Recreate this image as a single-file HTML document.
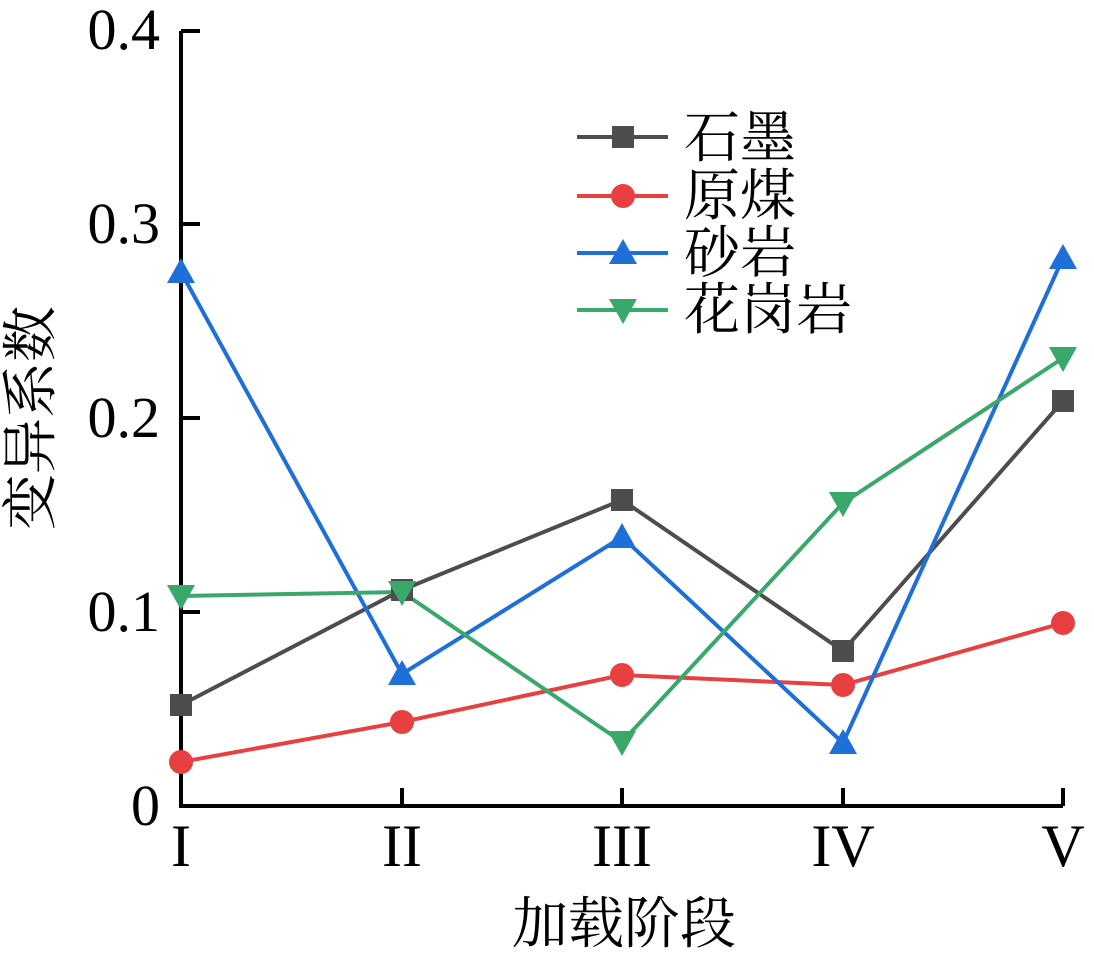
<!DOCTYPE html>
<html><head><meta charset="utf-8"><style>html,body{margin:0;padding:0;background:#fff}</style></head>
<body>
<svg width="1094" height="954" viewBox="0 0 1094 954" xmlns="http://www.w3.org/2000/svg">
<g stroke="#000" stroke-width="4" fill="none">
<polyline points="181,31 181,806 1063,806"/>
<line x1="181" y1="31" x2="200" y2="31"/><line x1="181" y1="224" x2="200" y2="224"/><line x1="181" y1="418" x2="200" y2="418"/><line x1="181" y1="612" x2="200" y2="612"/>
<line x1="402" y1="806" x2="402" y2="788"/><line x1="622" y1="806" x2="622" y2="788"/><line x1="843" y1="806" x2="843" y2="788"/><line x1="1063" y1="806" x2="1063" y2="788"/>
</g>
<g font-family="Liberation Serif, serif" font-size="58" text-anchor="end" fill="#000">
<text x="160" y="49">0.4</text><text x="160" y="243">0.3</text><text x="160" y="437">0.2</text><text x="160" y="631">0.1</text><text x="160" y="825">0</text>
</g>
<g font-family="Liberation Serif, serif" font-size="60" text-anchor="middle" fill="#000">
<text x="181" y="866">I</text><text x="402" y="866">II</text><text x="622" y="866">III</text><text x="843" y="866">IV</text><text x="1063" y="866">V</text>
</g>
<text x="624" y="943" font-family="Liberation Serif, 'Noto Serif CJK SC', serif" font-size="56" text-anchor="middle">加载阶段</text>
<text transform="translate(50,418) rotate(-90)" font-family="Liberation Serif, 'Noto Serif CJK SC', serif" font-size="56" text-anchor="middle">变异系数</text>

<g stroke-width="4" fill="none">
<polyline stroke="#4d4d4d" points="181,705 402,590 622,500 843,651 1063,401"/>
<polyline stroke="#e84040" points="181,762 402,722 622,675 843,685 1063,623"/>
<polyline stroke="#1f6fd8" points="181,272 402,674 622,537 843,743 1063,258"/>
<polyline stroke="#3aa86a" points="181,596 402,592 622,742 843,503 1063,358"/>
</g>
<g fill="#4d4d4d"><rect x="170" y="694" width="22" height="22"/><rect x="391" y="579" width="22" height="22"/><rect x="611" y="489" width="22" height="22"/><rect x="832" y="640" width="22" height="22"/><rect x="1052" y="390" width="22" height="22"/></g>
<g fill="#e84040"><circle cx="181" cy="762" r="12"/><circle cx="402" cy="722" r="12"/><circle cx="622" cy="675" r="12"/><circle cx="843" cy="685" r="12"/><circle cx="1063" cy="623" r="12"/></g>
<g fill="#1f6fd8">
<polygon points="181,258 195,283 167,283"/><polygon points="402,660 416,685 388,685"/><polygon points="622,523 636,548 608,548"/><polygon points="843,729 857,754 829,754"/><polygon points="1063,244 1077,269 1049,269"/>
</g>
<g fill="#3aa86a">
<polygon points="167,585 195,585 181,610"/><polygon points="388,581 416,581 402,606"/><polygon points="608,731 636,731 622,756"/><polygon points="829,492 857,492 843,517"/><polygon points="1049,347 1077,347 1063,372"/>
</g>

<g stroke-width="4">
<line x1="577" y1="137" x2="668" y2="137" stroke="#4d4d4d"/>
<line x1="577" y1="196" x2="668" y2="196" stroke="#e84040"/>
<line x1="577" y1="253" x2="668" y2="253" stroke="#1f6fd8"/>
<line x1="577" y1="310" x2="668" y2="310" stroke="#3aa86a"/>
</g>
<rect x="612" y="126" width="22" height="22" fill="#4d4d4d"/>
<circle cx="623" cy="196" r="12" fill="#e84040"/>
<polygon points="623,239 637,264 609,264" fill="#1f6fd8"/>
<polygon points="609,299 637,299 623,324" fill="#3aa86a"/>
<g font-family="Liberation Serif, 'Noto Serif CJK SC', serif" font-size="56" fill="#000">
<text x="684" y="157">石墨</text><text x="684" y="215">原煤</text><text x="684" y="272">砂岩</text><text x="684" y="329">花岗岩</text>
</g>
</svg>
</body></html>
